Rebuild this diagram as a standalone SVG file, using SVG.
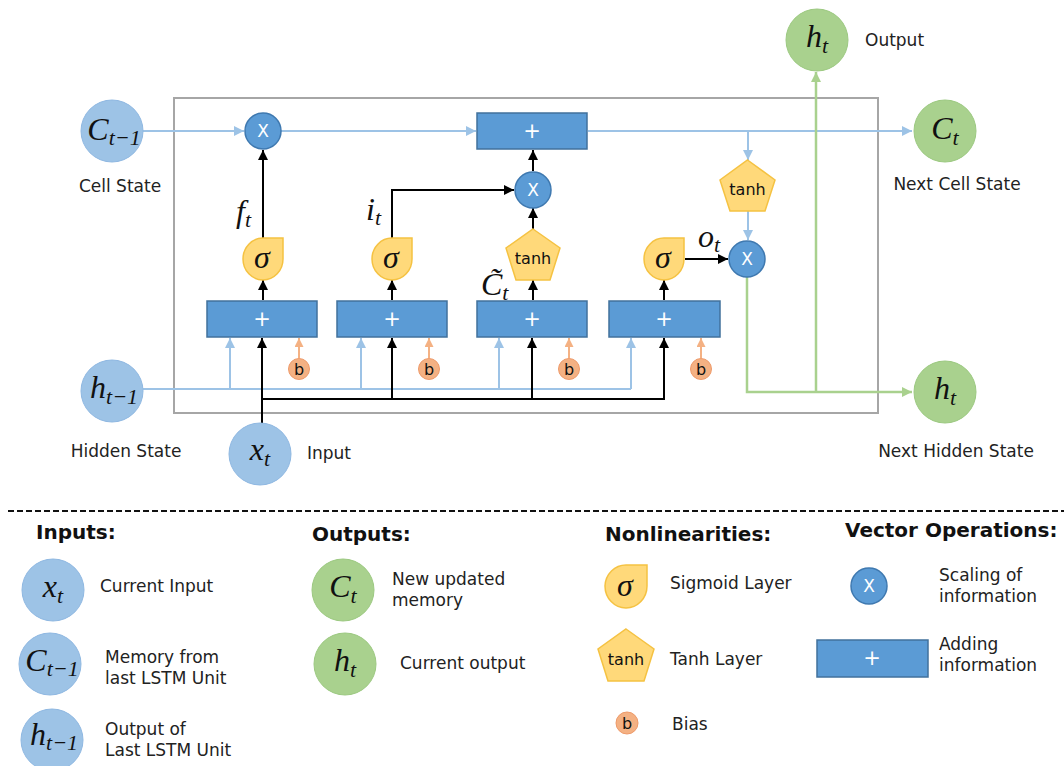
<svg xmlns="http://www.w3.org/2000/svg" width="1064" height="766" viewBox="0 0 1064 766">
<defs>
<style>
.t{font-family:"DejaVu Sans",Verdana,sans-serif;font-size:17px;fill:#222}
.h{font-family:"DejaVu Sans",Verdana,sans-serif;font-size:20px;font-weight:bold;fill:#111}
.m{font-family:"Liberation Serif","DejaVu Serif",serif;font-style:italic;font-size:32px;fill:#111}
.s{font-size:22px}
.bc{fill:#9DC3E6;stroke:#8FB8E2;stroke-width:1}
.gc{fill:#A9D18E;stroke:#9CC981;stroke-width:1}
.op{fill:#5B9BD5;stroke:#3F79B0;stroke-width:1.5}
.ad{fill:#5B9BD5;stroke:#41719C;stroke-width:1.5}
.nl{fill:#FFD97A;stroke:#F5C242;stroke-width:1.5}
.bi{fill:#F4B183;stroke:#EE9A6A;stroke-width:1}
.w{font-family:"DejaVu Sans",Verdana,sans-serif;fill:#fff;text-anchor:middle}
.k{font-family:"DejaVu Sans",Verdana,sans-serif;fill:#111;text-anchor:middle}
.lb{fill:none;stroke:#9DC3E6;stroke-width:2}
.lk{fill:none;stroke:#000;stroke-width:2}
.lo{fill:none;stroke:#F4B183;stroke-width:2}
.lg{fill:none;stroke:#A9D18E;stroke-width:2.5}
</style>
<marker id="ak" viewBox="0 0 10 10" refX="10" refY="5" markerUnits="userSpaceOnUse" markerWidth="10" markerHeight="10" orient="auto"><path d="M0,0 L10,5 L0,10 z" fill="#000"/></marker>
<marker id="ab" viewBox="0 0 10 10" refX="10" refY="5" markerUnits="userSpaceOnUse" markerWidth="11" markerHeight="10" orient="auto"><path d="M0,0 L10,5 L0,10 z" fill="#9DC3E6"/></marker>
<marker id="ao" viewBox="0 0 10 10" refX="10" refY="5" markerUnits="userSpaceOnUse" markerWidth="10" markerHeight="9" orient="auto"><path d="M0,0 L10,5 L0,10 z" fill="#F4B183"/></marker>
<marker id="ag" viewBox="0 0 10 10" refX="10" refY="5" markerUnits="userSpaceOnUse" markerWidth="11" markerHeight="10" orient="auto"><path d="M0,0 L10,5 L0,10 z" fill="#A9D18E"/></marker>
</defs>
<rect width="1064" height="766" fill="#fff"/>

<g id="lstm-box"><rect x="174" y="98" width="704" height="315" fill="none" stroke="#A6A6A6" stroke-width="2"/></g>

<g id="connectors">
<path class="lb" d="M143,131 H244" marker-end="url(#ab)"/>
<path class="lb" d="M281,131 H476" marker-end="url(#ab)"/>
<path class="lb" d="M588,131 H912" marker-end="url(#ab)"/>
<path class="lb" d="M748,131 V160" marker-end="url(#ab)"/>
<path class="lb" d="M748,211 V240" marker-end="url(#ab)"/>
<path class="lb" d="M143,389 H631"/>
<path class="lb" d="M230,389 V338" marker-end="url(#ab)"/>
<path class="lb" d="M361,389 V338" marker-end="url(#ab)"/>
<path class="lb" d="M499,389 V338" marker-end="url(#ab)"/>
<path class="lb" d="M631,389 V338" marker-end="url(#ab)"/>
<path class="lk" d="M262,423 V338" marker-end="url(#ak)"/>
<path class="lk" d="M262,399 H664 V338" marker-end="url(#ak)"/>
<path class="lk" d="M392,399 V338" marker-end="url(#ak)"/>
<path class="lk" d="M532,399 V338" marker-end="url(#ak)"/>
<path class="lk" d="M263,300 V280" marker-end="url(#ak)"/>
<path class="lk" d="M263,238 V150" marker-end="url(#ak)"/>
<path class="lk" d="M392,300 V280" marker-end="url(#ak)"/>
<path class="lk" d="M392,238 V190 H514" marker-end="url(#ak)"/>
<path class="lk" d="M533,300 V280" marker-end="url(#ak)"/>
<path class="lk" d="M533,229 V208" marker-end="url(#ak)"/>
<path class="lk" d="M533,171 V150" marker-end="url(#ak)"/>
<path class="lk" d="M664,300 V280" marker-end="url(#ak)"/>
<path class="lk" d="M685,259 H728" marker-end="url(#ak)"/>
<path class="lo" d="M299,358 V338" marker-end="url(#ao)"/>
<path class="lo" d="M429,358 V338" marker-end="url(#ao)"/>
<path class="lo" d="M569,358 V338" marker-end="url(#ao)"/>
<path class="lo" d="M701,358 V338" marker-end="url(#ao)"/>
<path class="lg" d="M747,277 V392 H912" marker-end="url(#ag)"/>
<path class="lg" d="M816,392 V72" marker-end="url(#ag)"/>
</g>

<g id="c-prev"><circle class="bc" cx="112" cy="131" r="31"/><text class="m" x="114" y="140" text-anchor="middle">C<tspan class="s" dy="5">t−1</tspan></text><text class="t" x="120" y="192" text-anchor="middle">Cell State</text></g>
<g id="h-prev"><circle class="bc" cx="112" cy="391" r="31"/><text class="m" x="114" y="398" text-anchor="middle">h<tspan class="s" dy="6">t−1</tspan></text><text class="t" x="126" y="457" text-anchor="middle">Hidden State</text></g>
<g id="x-in"><circle class="bc" cx="260" cy="454" r="31"/><text class="m" x="260" y="460" text-anchor="middle">x<tspan class="s" dy="6">t</tspan></text><text class="t" x="307" y="459">Input</text></g>
<g id="c-next"><circle class="gc" cx="945" cy="131" r="31"/><text class="m" x="945" y="139" text-anchor="middle">C<tspan class="s" dy="6">t</tspan></text><text class="t" x="957" y="190" text-anchor="middle">Next Cell State</text></g>
<g id="h-next"><circle class="gc" cx="945" cy="392" r="31"/><text class="m" x="945" y="399" text-anchor="middle">h<tspan class="s" dy="6">t</tspan></text><text class="t" x="956" y="457" text-anchor="middle">Next Hidden State</text></g>
<g id="h-out"><circle class="gc" cx="817" cy="40" r="31"/><text class="m" x="817" y="47" text-anchor="middle">h<tspan class="s" dy="6">t</tspan></text><text class="t" x="865" y="46">Output</text></g>

<g id="forget-mul"><circle class="op" cx="263" cy="131" r="18"/><text class="w" x="263" y="137" font-size="17">X</text></g>
<g id="cell-add"><rect class="ad" x="477" y="113" width="110" height="36"/><text class="w" x="532" y="138" font-size="21">+</text></g>
<g id="input-mul"><circle class="op" cx="533" cy="190" r="18"/><text class="w" x="533" y="196" font-size="17">X</text></g>
<g id="out-tanh"><path class="nl" d="M747.5,160 L775,180 L765,211 L730,211 L720,180 Z"/><text class="k" x="747.5" y="195" font-size="16">tanh</text></g>
<g id="out-mul"><circle class="op" cx="747" cy="259" r="18"/><text class="w" x="747" y="265" font-size="17">X</text></g>

<g id="gate-f">
<rect class="ad" x="207" y="301" width="110" height="36"/><text class="w" x="262" y="326" font-size="21">+</text>
<path class="nl" d="M263,238 L283,238 L283,259 A20,21 0 0 1 263,280 A20,21 0 0 1 243,259 A20,21 0 0 1 263,238 Z"/><text class="m" x="262" y="268" text-anchor="middle">σ</text>
<circle class="bi" cx="299" cy="369" r="10.5"/><text class="k" x="299" y="375" font-size="16">b</text>
<text class="m" x="236" y="222" font-size="29">f<tspan class="s" dy="5">t</tspan></text>
</g>
<g id="gate-i">
<rect class="ad" x="337" y="301" width="110" height="36"/><text class="w" x="392" y="326" font-size="21">+</text>
<path class="nl" d="M392,238 L412,238 L412,259 A20,21 0 0 1 392,280 A20,21 0 0 1 372,259 A20,21 0 0 1 392,238 Z"/><text class="m" x="391" y="268" text-anchor="middle">σ</text>
<circle class="bi" cx="429" cy="369" r="10.5"/><text class="k" x="429" y="375" font-size="16">b</text>
<text class="m" x="366" y="220" font-size="29">i<tspan class="s" dy="5">t</tspan></text>
</g>
<g id="gate-c">
<rect class="ad" x="477" y="301" width="110" height="36"/><text class="w" x="532" y="326" font-size="21">+</text>
<path class="nl" d="M533,229 L560,248 L550,280 L516,280 L506,248 Z"/><text class="k" x="533" y="264" font-size="16">tanh</text>
<circle class="bi" cx="569" cy="369" r="10.5"/><text class="k" x="569" y="375" font-size="16">b</text>
<text class="m" x="481" y="295" font-size="29">C̃<tspan class="s" dy="5">t</tspan></text>
</g>
<g id="gate-o">
<rect class="ad" x="609" y="301" width="111" height="36"/><text class="w" x="664" y="326" font-size="21">+</text>
<path class="nl" d="M664,238 L684,238 L684,259 A20,21 0 0 1 664,280 A20,21 0 0 1 644,259 A20,21 0 0 1 664,238 Z"/><text class="m" x="663" y="268" text-anchor="middle">σ</text>
<circle class="bi" cx="701" cy="369" r="10.5"/><text class="k" x="701" y="375" font-size="16">b</text>
<text class="m" x="698" y="247" font-size="29">o<tspan class="s" dy="5">t</tspan></text>
</g>

<g id="divider"><line x1="8" y1="511" x2="1064" y2="511" stroke="#111" stroke-width="2" stroke-dasharray="6,3"/></g>

<g id="legend-inputs">
<text class="h" x="36" y="539">Inputs:</text>
<circle class="bc" cx="53" cy="590" r="31"/><text class="m" x="53" y="597" text-anchor="middle">x<tspan class="s" dy="6">t</tspan></text>
<text class="t" x="100" y="592">Current Input</text>
<circle class="bc" cx="50" cy="664" r="31"/><text class="m" x="52" y="671" text-anchor="middle">C<tspan class="s" dy="5">t−1</tspan></text>
<text class="t" x="105" y="663">Memory from</text><text class="t" x="105" y="684">last LSTM Unit</text>
<circle class="bc" cx="52" cy="740" r="31"/><text class="m" x="54" y="745" text-anchor="middle">h<tspan class="s" dy="5">t−1</tspan></text>
<text class="t" x="105" y="735">Output of</text><text class="t" x="105" y="756">Last LSTM Unit</text>
</g>
<g id="legend-outputs">
<text class="h" x="312" y="541">Outputs:</text>
<circle class="gc" cx="343" cy="590" r="31"/><text class="m" x="343" y="597" text-anchor="middle">C<tspan class="s" dy="6">t</tspan></text>
<text class="t" x="392" y="585">New updated</text><text class="t" x="392" y="606">memory</text>
<circle class="gc" cx="345" cy="664" r="31"/><text class="m" x="345" y="671" text-anchor="middle">h<tspan class="s" dy="6">t</tspan></text>
<text class="t" x="400" y="669">Current output</text>
</g>
<g id="legend-nonlin">
<text class="h" x="605" y="541">Nonlinearities:</text>
<path class="nl" d="M626,565 L647,565 L647,586 A21,22 0 0 1 626,608 A21,22 0 0 1 605,586 A21,22 0 0 1 626,565 Z"/><text class="m" x="625" y="596" text-anchor="middle">σ</text>
<text class="t" x="670" y="589">Sigmoid Layer</text>
<path class="nl" d="M626,629 L654,649 L644,681 L608,681 L598,649 Z"/><text class="k" x="626" y="665" font-size="16">tanh</text>
<text class="t" x="670" y="665">Tanh Layer</text>
<circle class="bi" cx="627" cy="723" r="11"/><text class="k" x="627" y="729" font-size="16">b</text>
<text class="t" x="672" y="730">Bias</text>
</g>
<g id="legend-vector">
<text class="h" x="845" y="537">Vector Operations:</text>
<circle class="op" cx="869" cy="586" r="18"/><text class="w" x="869" y="592" font-size="17">X</text>
<text class="t" x="939" y="581">Scaling of</text><text class="t" x="939" y="602">information</text>
<rect class="ad" x="817" y="640" width="111" height="37"/><text class="w" x="872" y="665" font-size="21">+</text>
<text class="t" x="939" y="650">Adding</text><text class="t" x="939" y="671">information</text>
</g>
</svg>
